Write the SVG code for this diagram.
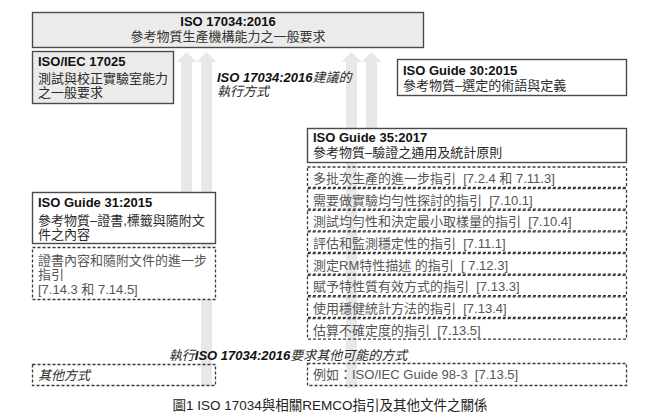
<svg xmlns="http://www.w3.org/2000/svg" width="660" height="420" viewBox="0 0 660 420">
<style>
text{font-family:"Liberation Sans","Noto Sans CJK TC",sans-serif;font-size:13px;fill:#2a2a2a;white-space:pre}
.b{font-weight:bold;fill:#111}
.g{fill:#555}
.i{font-style:italic}
.solid{stroke:#4a4a4a;stroke-width:1.4}
.grey{fill:#ebebeb}
.white{fill:#fff}
.dash{fill:none;stroke:#3a3a3a;stroke-width:1.3;stroke-dasharray:3 2}
.bar{fill:#e8e8e8}
</style>
<g id="connectors">
<path class="bar" d="M181,246 V62 H176.5 L186.5,52 L196.5,62 H192 V246 Z"/>
<path class="bar" d="M201,386 V62 H196.5 L206.5,52 L216.5,62 H212 V386 Z"/>
<path class="bar" d="M346,388 V62 H341.5 L351.5,52 L361.5,62 H357 V388 Z"/>
<path class="bar" d="M366,130 V62 H361.5 L371.5,52 L381.5,62 H377 V130 Z"/>
</g>
<g id="iso17034">
<rect class="solid grey" x="32.5" y="12.5" width="391" height="35"/>
<text class="b" x="228" y="26" text-anchor="middle">ISO 17034:2016</text>
<text x="228" y="41" text-anchor="middle" style="fill:#333">參考物質生產機構能力之一般要求</text>
</g>
<g id="iso17025">
<rect class="solid grey" x="32.5" y="51.5" width="141" height="52"/>
<text class="b" x="38" y="66">ISO/IEC 17025</text>
<text x="38" y="83">測試與校正實驗室能力</text>
<text x="38" y="97">之一般要求</text>
</g>
<g id="recommend-label">
<text class="i" x="217" y="82"><tspan class="b">ISO 17034:2016</tspan>建議的</text>
<text class="i" x="217" y="96">執行方式</text>
</g>
<g id="guide30">
<rect class="solid white" x="397.5" y="59.5" width="229" height="36"/>
<text class="b" x="403" y="75">ISO Guide 30:2015</text>
<text x="403" y="90">參考物質–選定的術語與定義</text>
</g>
<g id="guide35">
<rect class="solid white" x="307.5" y="128.5" width="319" height="34"/>
<text class="b" x="313" y="142">ISO Guide 35:2017</text>
<text x="313" y="157">參考物質–驗證之通用及統計原則</text>
</g>
<g id="guide35-items">
<rect class="dash" x="307.5" y="167" width="319" height="20.5"/>
<text class="g" x="313" y="183">多批次生產的進一步指引  [7.2.4 和 7.11.3]</text>
<rect class="dash" x="307.5" y="188.65" width="319" height="20.5"/>
<text class="g" x="313" y="204.6">需要做實驗均勻性探討的指引  [7.10.1]</text>
<rect class="dash" x="307.5" y="210.3" width="319" height="20.5"/>
<text class="g" x="313" y="226.3">測試均勻性和決定最小取樣量的指引  [7.10.4]</text>
<rect class="dash" x="307.5" y="231.95" width="319" height="20.5"/>
<text class="g" x="313" y="247.9">評估和監測穩定性的指引  [7.11.1]</text>
<rect class="dash" x="307.5" y="253.6" width="319" height="20.5"/>
<text class="g" x="313" y="269.6">測定RM特性描述 的指引  [ 7.12.3]</text>
<rect class="dash" x="307.5" y="275.25" width="319" height="20.5"/>
<text class="g" x="313" y="291.2">賦予特性質有效方式的指引  [7.13.3]</text>
<rect class="dash" x="307.5" y="296.9" width="319" height="20.5"/>
<text class="g" x="313" y="312.9">使用穩健統計方法的指引  [7.13.4]</text>
<rect class="dash" x="307.5" y="318.55" width="319" height="20.5"/>
<text class="g" x="313" y="334.5">估算不確定度的指引  [7.13.5]</text>
</g>
<g id="guide31">
<rect class="solid white" x="32.5" y="192.5" width="183" height="51"/>
<text class="b" x="38" y="207">ISO Guide 31:2015</text>
<text x="38" y="225">參考物質–證書,標籤與隨附文</text>
<text x="38" y="239">件之內容</text>
</g>
<g id="guide31-items">
<rect class="dash" x="32.5" y="247.5" width="183" height="52" style="fill:#fff"/>
<text class="g" x="38" y="265">證書內容和隨附文件的進一步</text>
<text class="g" x="38" y="279">指引</text>
<text class="g" x="38" y="294">[7.14.3 和 7.14.5]</text>
</g>
<g id="other-label">
<text class="i" x="288" y="360" text-anchor="middle">執行<tspan class="b">ISO 17034:2016</tspan>要求其他可能的方式</text>
</g>
<g id="other-methods">
<rect class="dash" x="32.5" y="364.5" width="183" height="21"/>
<text class="i" x="38" y="380">其他方式</text>
</g>
<g id="guide98">
<rect class="dash" x="307.5" y="363.5" width="319" height="22"/>
<text class="g" x="313" y="379">例如：ISO/IEC Guide 98-3  [7.13.5]</text>
</g>
<g id="caption">
<text x="330" y="410" text-anchor="middle" style="font-size:13.5px;fill:#222">圖1 ISO 17034與相關REMCO指引及其他文件之關係</text>
</g>
</svg>
